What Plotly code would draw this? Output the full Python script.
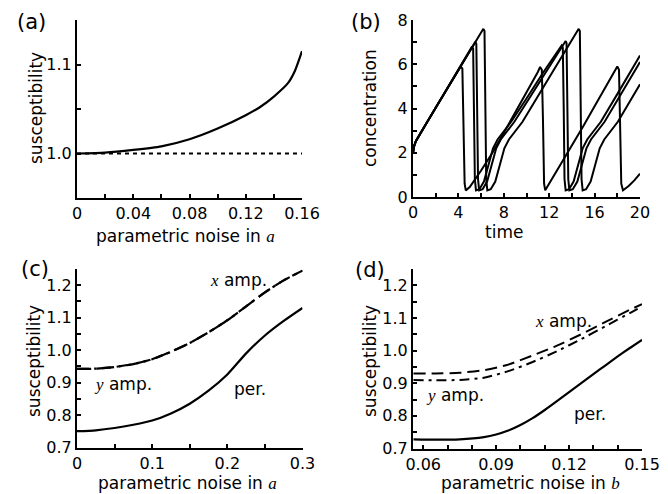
import plotly.graph_objects as go

# ---------------- data ----------------
# (a) susceptibility vs parametric noise in a
a_noise = [0, 0.02, 0.04, 0.06, 0.08, 0.10, 0.12, 0.13, 0.14, 0.15, 0.155, 0.16]
a_susc = [1.0, 1.001, 1.004, 1.008, 1.016, 1.028, 1.043, 1.052, 1.064, 1.079, 1.093, 1.115]
a_ref_x = [0, 0.16]
a_ref_y = [1.0, 1.0]

# (b) concentration time series (four trajectories)
bA_t = [0, 0.1, 0.25, 0.5, 1, 2, 3, 4, 4.2, 4.35, 4.45, 4.55, 4.65, 5, 6, 7, 8, 9, 10, 11, 11.2,
        11.35, 11.45, 11.55, 11.65, 12, 13, 14, 15, 16, 17, 18, 18.15, 18.25, 18.35, 18.5, 19, 19.5, 20]
bA_y = [2.0, 2.3, 2.52, 2.76, 3.18, 4.03, 4.88, 5.73, 5.9, 5.8, 3.5, 0.6, 0.3, 0.45, 1.2, 2.0, 2.9, 3.8, 4.7, 5.65, 5.88,
        5.75, 3.5, 0.6, 0.3, 0.6, 1.45, 2.33, 3.2, 4.1, 5.0, 5.9, 5.75, 3.5, 0.6, 0.3, 0.5, 0.75, 1.05]
bB_t = [0, 0.1, 0.25, 0.5, 1, 2, 3, 4, 5, 5.2, 5.3, 5.38, 5.45, 5.55, 5.85, 6.25, 6.65, 7.05, 7.45, 7.85, 8.25, 8.65,
        10, 11.5, 13.1, 13.2, 13.28, 13.35, 13.45, 13.75, 14.15, 14.55, 14.95, 15.35, 15.75, 16.15, 16.55, 18, 20]
bB_y = [2.0, 2.3, 2.52, 2.76, 3.18, 4.03, 4.88, 5.73, 6.6, 6.8, 6.7, 4.0, 0.8, 0.3, 0.35, 0.7, 1.5, 2.2, 2.6, 2.85, 3.1, 3.4,
        4.45, 5.65, 6.85, 6.75, 4.0, 0.8, 0.3, 0.35, 0.7, 1.5, 2.2, 2.6, 2.85, 3.1, 3.4, 4.65, 6.4]
bC_t = [0, 0.1, 0.25, 0.5, 1, 2, 3, 4, 5, 5.5, 5.58, 5.66, 5.73, 5.83, 6.13, 6.53, 6.93, 7.33, 7.73, 8.13, 8.53, 8.93,
        10.5, 12, 13.45, 13.53, 13.61, 13.68, 13.78, 14.08, 14.48, 14.88, 15.28, 15.68, 16.08, 16.48, 16.88, 18.5, 20]
bC_y = [2.0, 2.3, 2.52, 2.76, 3.18, 4.03, 4.88, 5.73, 6.6, 7.02, 6.92, 4.0, 0.8, 0.3, 0.35, 0.7, 1.5, 2.2, 2.6, 2.85, 3.1, 3.4,
        4.67, 5.88, 7.05, 6.95, 4.0, 0.8, 0.3, 0.35, 0.7, 1.5, 2.2, 2.6, 2.85, 3.1, 3.4, 4.8, 6.1]
bD_t = [0, 0.1, 0.25, 0.5, 1, 2, 3, 4, 5, 6, 6.2, 6.3, 6.38, 6.45, 6.55, 6.85, 7.25, 7.65, 8.05, 8.45, 8.85, 9.25, 9.65,
        12, 14.6, 14.7, 14.78, 14.85, 14.95, 15.25, 15.65, 16.05, 16.45, 16.85, 17.25, 17.65, 18.05, 20]
bD_y = [2.0, 2.3, 2.52, 2.76, 3.18, 4.03, 4.88, 5.73, 6.58, 7.43, 7.6, 7.5, 4.0, 0.8, 0.3, 0.35, 0.7, 1.5, 2.2, 2.6, 2.85, 3.1, 3.4,
        5.4, 7.6, 7.5, 4.0, 0.8, 0.3, 0.35, 0.7, 1.5, 2.2, 2.6, 2.85, 3.1, 3.4, 5.1]

# (c) susceptibility vs parametric noise in a
c_noise = [0, 0.025, 0.05, 0.075, 0.1, 0.125, 0.15, 0.175, 0.2, 0.225, 0.25, 0.275, 0.3]
c_xamp = [0.942, 0.943, 0.948, 0.957, 0.972, 0.995, 1.022, 1.055, 1.092, 1.135, 1.178, 1.215, 1.245]
c_yamp = [0.942, 0.943, 0.948, 0.957, 0.972, 0.995, 1.022, 1.055, 1.092, 1.135, 1.178, 1.215, 1.245]
c_per = [0.75, 0.753, 0.76, 0.77, 0.783, 0.805, 0.835, 0.875, 0.925, 0.99, 1.045, 1.09, 1.13]

# (d) susceptibility vs parametric noise in b
d_noise_amp = [0.056, 0.065, 0.075, 0.085, 0.095, 0.105, 0.115, 0.125, 0.135, 0.145, 0.15]
d_yamp = [0.93, 0.93, 0.932, 0.94, 0.957, 0.985, 1.015, 1.05, 1.088, 1.125, 1.142]
d_xamp = [0.91, 0.909, 0.91, 0.917, 0.937, 0.965, 0.998, 1.035, 1.075, 1.115, 1.135]
d_noise_per = [0.056, 0.065, 0.075, 0.085, 0.09, 0.095, 0.1, 0.105, 0.11, 0.115, 0.12, 0.125, 0.13, 0.135, 0.14, 0.145, 0.15]
d_per = [0.728, 0.727, 0.728, 0.735, 0.743, 0.755, 0.772, 0.793, 0.818, 0.845, 0.873, 0.9, 0.928, 0.955, 0.982, 1.008, 1.033]

# tick labels
a_xticks = [0, 0.04, 0.08, 0.12, 0.16]
a_xtext = ["0", "0.04", "0.08", "0.12", "0.16"]
a_yticks = [1.0, 1.1]
a_ytext = ["1.0", "1.1"]
b_xticks = [0, 4, 8, 12, 16, 20]
b_xtext = ["0", "4", "8", "12", "16", "20"]
b_yticks = [0, 2, 4, 6, 8]
b_ytext = ["0", "2", "4", "6", "8"]
c_xticks = [0, 0.1, 0.2, 0.3]
c_xtext = ["0", "0.1", "0.2", "0.3"]
cd_yticks = [0.7, 0.8, 0.9, 1.0, 1.1, 1.2]
cd_ytext = ["0.7", "0.8", "0.9", "1.0", "1.1", "1.2"]
d_xticks = [0.06, 0.09, 0.12, 0.15]
d_xtext = ["0.06", "0.09", "0.12", "0.15"]

# ---------------- figure ----------------
# The page body has an 8px margin, so the figure is drawn 8px smaller and
# every position below is given in window pixels minus that offset.
OFF = 8
W, H = 668 - OFF, 494 - OFF
FONT = "DejaVu Sans"
SERIF = "Liberation Serif"
BLACK = "black"

fig = go.Figure()

def line(x, y, xa, ya, dash="solid", width=2.2, shape="spline"):
    fig.add_trace(go.Scatter(x=x, y=y, mode="lines", xaxis=xa, yaxis=ya,
                             line=dict(color=BLACK, width=width, dash=dash, shape=shape,
                                       smoothing=0.6 if shape == "spline" else None),
                             showlegend=False, hoverinfo="skip"))

line(a_ref_x, a_ref_y, "x", "y", dash="4px,4px", width=2, shape="linear")
line(a_noise, a_susc, "x", "y")

for t, y in [(bA_t, bA_y), (bB_t, bB_y), (bC_t, bC_y), (bD_t, bD_y)]:
    line(t, y, "x2", "y2", width=2, shape="linear")

line(c_noise, c_per, "x3", "y3")
line(c_noise, c_yamp, "x3", "y3", dash="14px,6px", width=2.2)
line(c_noise, c_xamp, "x3", "y3", dash="12px,5px,3px,5px", width=2.2)

line(d_noise_per, d_per, "x4", "y4")
line(d_noise_amp, d_yamp, "x4", "y4", dash="12px,6px", width=2)
line(d_noise_amp, d_xamp, "x4", "y4", dash="10px,5px,3px,5px", width=2)


def axis(domain, rng, tickvals, ticktext, minor_tick0, minor_dtick, anchor):
    return dict(domain=domain, range=rng, anchor=anchor, automargin=False,
                showline=True, linecolor=BLACK, linewidth=2,
                ticks="inside", ticklen=4, tickwidth=1.5, tickcolor=BLACK,
                tickmode="array", tickvals=tickvals, ticktext=ticktext,
                minor=dict(ticks="inside", ticklen=4, tickwidth=1.5, tickcolor=BLACK,
                           tick0=minor_tick0, dtick=minor_dtick),
                showgrid=False, zeroline=False, mirror=False,
                tickfont=dict(family=FONT, size=16, color=BLACK), fixedrange=True)

def px(v):
    return (v - OFF) / W

def py(v):
    return 1 - (v - OFF) / H

fig.update_layout(
    template="none",
    width=W, height=H, autosize=False,
    margin=dict(l=0, r=0, t=0, b=0, pad=0),
    paper_bgcolor="white", plot_bgcolor="white",
    xaxis=axis([px(77), px(302)], [0, 0.16], a_xticks, a_xtext, 0, 0.02, "y"),
    yaxis=axis([py(198), py(20)], [0.95, 1.15], a_yticks, a_ytext, 0.95, 0.05, "x"),
    xaxis2=axis([px(413), px(640)], [0, 20], b_xticks, b_xtext, 0, 2, "y2"),
    yaxis2=axis([py(197), py(20)], [0, 8], b_yticks, b_ytext, 0, 1, "x2"),
    xaxis3=axis([px(77), px(302.5)], [0, 0.3], c_xticks, c_xtext, 0, 0.05, "y3"),
    yaxis3=axis([py(447.5), py(269)], [0.7, 1.25], cd_yticks, cd_ytext, 0.7, 0.05, "x3"),
    xaxis4=axis([px(413), px(642)], [0.0558, 0.15], d_xticks, d_xtext, 0.06, 0.01, "y4"),
    yaxis4=axis([py(448.5), py(269)], [0.7, 1.25], cd_yticks, cd_ytext, 0.7, 0.05, "x4"),
)

def it(ch):
    return "<i><span style='font-family:%s'>%s</span></i>" % (SERIF, ch)

annotations = []

def note(text, cx, cy, size=17, angle=0):
    annotations.append(dict(text=text, x=px(cx), y=py(cy), xref="paper", yref="paper",
                            xanchor="center", yanchor="middle", showarrow=False,
                            textangle=angle, borderpad=0,
                            font=dict(family=FONT, size=size, color=BLACK)))

# panel letters
note("(a)", 31, 22, size=21)
note("(b)", 366, 22, size=21)
note("(c)", 35, 269, size=21)
note("(d)", 370, 270, size=21)

# axis titles
note("susceptibility", 36, 108, angle=-90)
note("concentration", 370, 108, angle=-90)
note("susceptibility", 34, 361, angle=-90)
note("susceptibility", 370, 361, angle=-90)
note("parametric noise in " + it("a"), 185, 236)
note("time", 504, 232)
note("parametric noise in " + it("a"), 187, 483)
note("parametric noise in " + it("b"), 530, 483)

# curve labels
note(it("x") + " amp.", 239, 280)
note(it("y") + " amp.", 123, 384)
note("per.", 250, 389)
note(it("x") + " amp.", 563, 321)
note(it("y") + " amp.", 455, 395)
note("per.", 590, 414)

fig.update_layout(annotations=annotations)

fig.write_html("out.html")
